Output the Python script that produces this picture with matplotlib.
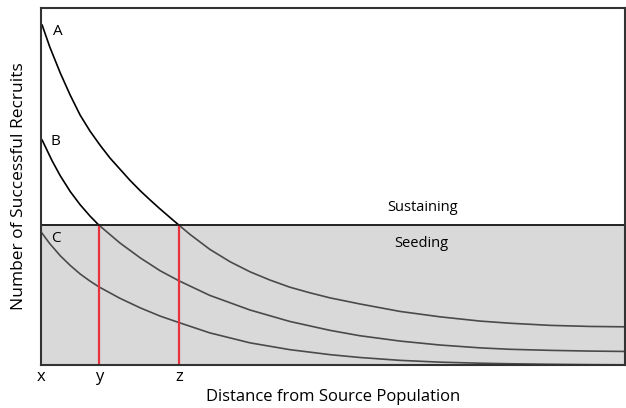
import matplotlib.pyplot as plt

plt.rcParams['font.family'] = ['Open Sans', 'DejaVu Sans']

# Curves (distance 0-100, recruits 0-100)
dist_a = [0.2, 1.5, 3.3, 5.0, 6.7, 8.4, 10.1, 11.8, 13.5, 15.2, 17.0, 18.7, 20.4, 22.1, 23.6,
          25.5, 28.9, 32.4, 35.8, 39.2, 42.6, 46.1, 49.5, 54.6, 61.5, 68.3, 75.2, 80.3, 87.2, 94.0, 99.7]
recr_a = [95.2, 89.1, 81.8, 75.6, 70.0, 65.5, 61.6, 58.0, 54.9, 51.8, 48.8, 46.2, 43.7, 41.3, 39.2,
          36.6, 32.4, 28.9, 26.1, 23.8, 21.8, 20.2, 18.8, 17.1, 15.0, 13.5, 12.3, 11.7, 11.1, 10.8, 10.7]

dist_b = [0.2, 1.9, 3.3, 5.0, 6.7, 8.4, 9.9, 13.5, 17.0, 20.4, 23.6, 28.9, 35.8, 42.6, 49.5,
          54.6, 61.5, 68.3, 75.2, 80.3, 87.2, 94.0, 99.7]
recr_b = [63.0, 57.2, 53.0, 48.6, 44.9, 41.7, 39.2, 34.2, 30.0, 26.4, 23.6, 19.5, 15.4, 12.2, 9.7,
          8.2, 6.7, 5.6, 4.8, 4.4, 4.1, 3.9, 3.8]

dist_c = [0, 1.5, 3.3, 5.0, 6.7, 8.4, 9.9, 13.5, 17.0, 20.4, 23.6, 28.9, 35.8, 42.6, 49.5,
          54.6, 61.5, 68.3, 75.2, 80.3, 87.2, 94.0, 99.7]
recr_c = [37.3, 34.0, 30.6, 27.9, 25.5, 23.5, 21.9, 18.7, 16.0, 13.7, 11.9, 9.0, 6.2, 4.3, 2.9,
          2.1, 1.3, 0.8, 0.5, 0.35, 0.2, 0.1, 0.05]

threshold = 39.2
marks = [0, 9.9, 23.6]
mark_labels = ['x', 'y', 'z']

fig = plt.figure(figsize=(6.26, 4.08), dpi=100)
ax = fig.add_axes([41 / 626, 43 / 408, 584 / 626, 357 / 408])

for d, r in [(dist_a, recr_a), (dist_b, recr_b), (dist_c, recr_c)]:
    ax.plot(d, r, color='black', lw=1.2, zorder=2, solid_joinstyle='round')

# seeding zone drawn as a translucent overlay on top of the curves
ax.axhspan(0, threshold, color=(0.667, 0.667, 0.675), alpha=0.44, lw=0, zorder=3)
ax.axhline(threshold, color='#222222', lw=1.4, zorder=5)

for m in marks[1:]:
    ax.plot([m, m], [0, threshold], color='#e8323c', lw=1.6, zorder=4)

ax.text(2.0, 93.3, 'A', fontsize=11, va='center', ha='left')
ax.text(1.6, 62.5, 'B', fontsize=11, va='center', ha='left')
ax.text(1.7, 35.4, 'C', fontsize=11, va='center', ha='left', zorder=6)
ax.text(65.4, 44.0, 'Sustaining', fontsize=10.5, va='center', ha='center')
ax.text(65.2, 34.0, 'Seeding', fontsize=10.5, va='center', ha='center', zorder=6)

ax.set_xlim(0, 100)
ax.set_ylim(0, 100)
ax.set_xticks(marks)
ax.set_xticklabels(mark_labels, fontsize=12)
ax.set_yticks([])
ax.tick_params(axis='x', length=0, pad=3)
for s in ax.spines.values():
    s.set_color('#333333')
    s.set_linewidth(1.5)
    s.set_zorder(6)

ax.set_xlabel('Distance from Source Population', fontsize=12, labelpad=2.5)
ax.set_ylabel('Number of Successful Recruits', fontsize=12.5, labelpad=10)

fig.savefig('out.png', dpi=100)
